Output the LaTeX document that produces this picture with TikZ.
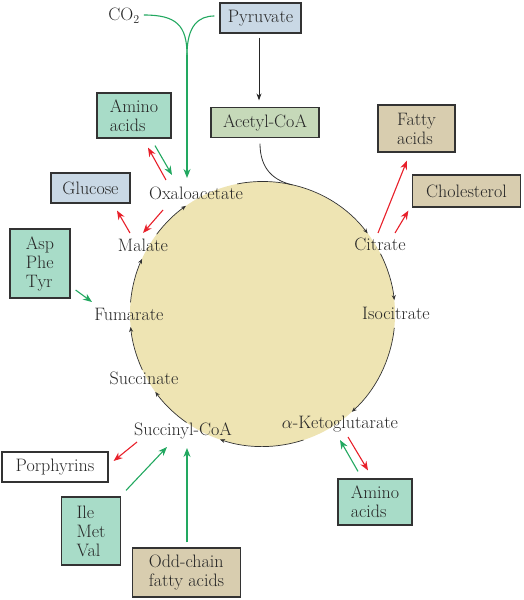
\documentclass[tikz,border=0pt]{standalone}
\usetikzlibrary{arrows.meta,calc}
\definecolor{txt}{HTML}{262626}
\definecolor{boxline}{HTML}{333333}
\definecolor{mint}{HTML}{A8DCC8}
\definecolor{lblue}{HTML}{C9D8E5}
\definecolor{acet}{HTML}{C6D9B9}
\definecolor{tan}{HTML}{D8CDAF}
\definecolor{circfill}{HTML}{EEE4B3}
\definecolor{arrred}{HTML}{E8202A}
\definecolor{arrgreen}{HTML}{22A860}
\begin{document}
\begin{tikzpicture}[x=1pt,y=1pt,
  font=\fontsize{18}{19}\selectfont, text=txt,
  box/.style={draw=boxline, line width=1.2pt, inner sep=0pt, align=left},
  lbl/.style={inner sep=0pt},
  redarr/.style={draw=arrred, line width=1.1pt, -{Stealth[length=9pt,width=7pt]}},
  greenarr/.style={draw=arrgreen, line width=1.1pt, -{Stealth[length=9pt,width=7pt]}},
  greenline/.style={draw=arrgreen, line width=1.1pt},
  blkarr/.style={draw=black!85, line width=0.9pt, -{Stealth[length=7pt,width=5pt]}},
  cyc/.style={draw=black!80, line width=0.7pt, -{Stealth[length=5pt,width=4pt]}}
]
\useasboundingbox (0,0) rectangle (524,600);
\coordinate (C) at (262.5,286);
\fill[circfill] (C) circle[radius=132.5pt];

% boxes
\node[box, fill=lblue, minimum width=81pt, minimum height=30pt] (pyr) at (260.5,582) {Pyruvate};
\node[box, fill=acet, minimum width=108pt, minimum height=30pt] (acet) at (265,477.5) {Acetyl-CoA};
\node[box, fill=mint, minimum width=74pt, minimum height=45pt] (aaT) at (134,484.5) {Amino\\acids};
\node[box, fill=lblue, minimum width=79pt, minimum height=30pt] (glu) at (90.5,412) {Glucose};
\node[box, fill=mint, minimum width=60pt, minimum height=69pt] (asp) at (40,336.5) {Asp\\Phe\\Tyr};
\node[box, fill=tan, minimum width=77pt, minimum height=47pt] (fa) at (416.5,471.5) {Fatty\\acids};
\node[box, fill=tan, minimum width=108pt, minimum height=32pt] (chol) at (466.5,409) {Cholesterol};
\node[box, fill=white, minimum width=106pt, minimum height=30pt] (porph) at (55,133) {Porphyrins};
\node[box, fill=mint, minimum width=59pt, minimum height=68pt] (ile) at (91,69) {Ile\\Met\\Val};
\node[box, fill=tan, minimum width=108pt, minimum height=49pt] (odd) at (186.5,27.5) {Odd-chain\\fatty acids};
\node[box, fill=mint, minimum width=74pt, minimum height=46pt] (aaB) at (375,98) {Amino\\acids};

% cycle labels
\node[lbl] (co2) at (124,584) {CO$_2$};
\node[lbl] (oxa) at (196,407) {Oxaloacetate};
\node[lbl] (mal) at (143,355) {Malate};
\node[lbl] (fum) at (129,286) {Fumarate};
\node[lbl] (succ) at (144,222) {Succinate};
\node[lbl] (sca) at (183,169) {Succinyl-CoA};
\node[lbl] (akg) at (340,176) {$\alpha$-Ketoglutarate};
\node[lbl] (iso) at (396,287) {Isocitrate};
\node[lbl] (cit) at (380,356) {Citrate};

% cycle arcs
\draw[cyc] ($(C)+(143:132.5)$) arc[start angle=143, end angle=125.3, radius=132.5pt];
\draw[cyc] ($(C)+(101:132.5)$) arc[start angle=101, end angle=37.5, radius=132.5pt];
\draw[cyc] ($(C)+(27:132.5)$) arc[start angle=27, end angle=6, radius=132.5pt];
\draw[cyc] ($(C)+(-6:132.5)$) arc[start angle=-6, end angle=-47.6, radius=132.5pt];
\draw[cyc] ($(C)+(-72:132.5)$) arc[start angle=-72, end angle=-108.7, radius=132.5pt];
\draw[cyc] ($(C)+(-125:132.5)$) arc[start angle=-125, end angle=-144, radius=132.5pt];
\draw[cyc] ($(C)+(-155:132.5)$) arc[start angle=-155, end angle=-174.4, radius=132.5pt];
\draw[cyc] ($(C)+(175:132.5)$) arc[start angle=175, end angle=155.4, radius=132.5pt];

% acetyl-CoA into cycle
\coordinate (join) at ($(C)+(77:132.5)$);
\draw[draw=black!80, line width=0.8pt] ([shift={(-5,-5.5)}]acet.south) .. controls (260,430) and (274.8,419.2) .. (join);
\draw[blkarr] ([shift={(-1.5,-4)}]pyr.south) -- ([shift={(-6,6.5)}]acet.north);

% CO2 / pyruvate green
\coordinate (merge) at (187,545);
\draw[greenline] ([xshift=4pt,yshift=1pt]co2.east) .. controls (176,585) and (187,575) .. (merge);
\draw[greenline] ([xshift=-5pt,yshift=2pt]pyr.west) .. controls (199,584) and (187,575) .. (merge);
\draw[greenarr] (merge) -- ([shift={(-9,15)}]oxa.center);

% side arrows
\draw[redarr] ([shift={(-2,11)}]cit.center) -- ([shift={(-9.5,-8)}]fa.south);
\draw[redarr] ([shift={(15,11)}]cit.center) -- ([shift={(-3.5,-3)}]chol.south west);
\draw[redarr] ([shift={(-30,13)}]oxa.center) -- ([shift={(14,-9)}]aaT.south);
\draw[greenarr] ([shift={(21,-7)}]aaT.south) -- ([shift={(-24,18)}]oxa.center);
\draw[redarr] ([shift={(-13,12)}]mal.center) -- ([shift={(26.5,-7)}]glu.south);
\draw[redarr] ([shift={(-33,-17)}]oxa.center) -- ([shift={(0,12)}]mal.center);
\draw[greenarr] ([shift={(5,-26.5)}]asp.east) -- ([shift={(-37,12)}]fum.center);
\draw[redarr] ([shift={(-46,-11)}]sca.center) -- ([shift={(5,6)}]porph.east);
\draw[greenarr] ([shift={(35,6)}]ile.north) -- ([shift={(-16,-16)}]sca.center);
\draw[greenarr] ([shift={(0.5,5)}]odd.north) -- ([shift={(4,-17)}]sca.center);
\draw[greenarr] ([shift={(-17,7)}]aaB.north) -- ([shift={(0,-16)}]akg.center);
\draw[redarr] ([shift={(8,-13)}]akg.center) -- ([shift={(-7,8)}]aaB.north);
\end{tikzpicture}
\end{document}
